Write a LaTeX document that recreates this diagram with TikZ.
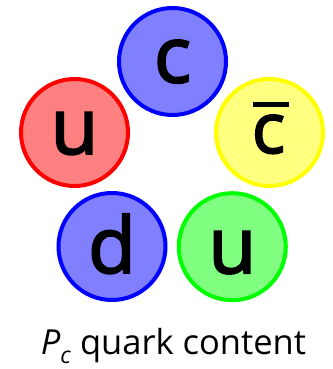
\documentclass[tikz,border=0pt]{standalone}
\usepackage{fontspec}
\setmainfont{Open Sans}
\newfontfamily\qfont{Open Sans}[FakeBold=2.5]
\definecolor{qblue}{HTML}{0000FF}
\definecolor{qbluef}{HTML}{8080FF}
\definecolor{qred}{HTML}{FF0000}
\definecolor{qredf}{HTML}{FF8080}
\definecolor{qyel}{HTML}{FFFF00}
\definecolor{qyelf}{HTML}{FFFF80}
\definecolor{qgrn}{HTML}{00FF00}
\definecolor{qgrnf}{HTML}{80FF80}
\begin{document}
\begin{tikzpicture}[x=1pt,y=1pt,
  quark/.style={circle,line width=4pt,minimum size=107pt,inner sep=0pt},
  letter/.style={anchor=base,inner sep=0pt,font=\qfont\fontsize{78}{78}\selectfont},
  caption/.style={anchor=base,inner sep=0pt,font=\fontsize{34.5}{34.5}\selectfont}]
\useasboundingbox (0,0) rectangle (332,369);
\node[quark,draw=qblue,fill=qbluef] (c) at (172.5,307.5) {};
\node[quark,draw=qred,fill=qredf] (u1) at (74.5,236.5) {};
\node[quark,draw=qyel,fill=qyelf] (cb) at (269.5,236.5) {};
\node[quark,draw=qblue,fill=qbluef] (d) at (112,122.5) {};
\node[quark,draw=qgrn,fill=qgrnf] (u2) at (232.3,122.3) {};
\node[letter] (lc) at ([yshift=-21pt]c.center) {c};
\node[letter] (lu1) at ([yshift=-21.5pt]u1.center) {u};
\node[letter,font=\qfont\fontsize{70}{70}\selectfont] (lcb) at ([xshift=-1pt,yshift=-20.5pt]cb.center) {c};
\coordinate (bl) at ([xshift=-16.5pt,yshift=27.8pt]cb.center);
\coordinate (br) at ([xshift=19.5pt,yshift=27.8pt]cb.center);
\draw[line width=5pt] (bl) -- (br);
\node[letter] (ld) at ([yshift=-26.5pt]d.center) {d};
\node[letter] (lu2) at ([yshift=-26.5pt]u2.center) {u};
\node[caption] (cap) at (173.5,14) {\textit{P}\raisebox{-8.5pt}{\fontsize{23}{23}\selectfont\textit{c}} quark content};
\end{tikzpicture}
\end{document}
